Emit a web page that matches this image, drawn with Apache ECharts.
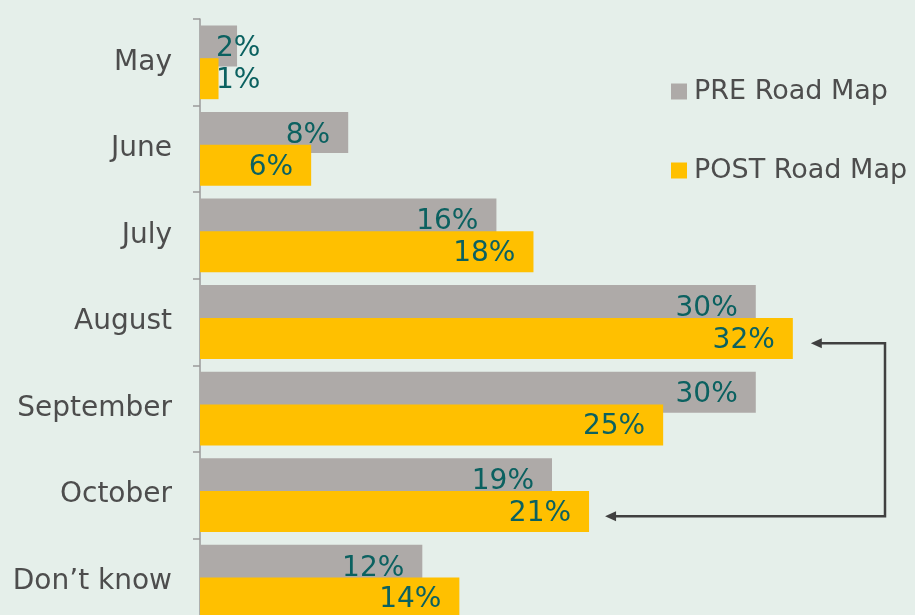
<!DOCTYPE html>
<html>
<head>
<meta charset="utf-8">
<script src="https://cdn.jsdelivr.net/npm/echarts@6/dist/echarts.min.js"></script>
<style>
  html, body { margin: 0; padding: 0; background: #E5EFEA; }
  #chart { width: 915px; height: 615px; }
</style>
</head>
<body>
<div id="chart"></div>
<script>
var months = ['May', 'June', 'July', 'August', 'September', 'October', 'Don\u2019t know'];
var preRoadMap = [2, 8, 16, 30, 30, 19, 12];
var postRoadMap = [1, 6, 18, 32, 25, 21, 14];
var seriesNames = ['PRE Road Map', 'POST Road Map'];

var font = 'DejaVu Sans, Verdana, sans-serif';
var valueColor = '#0B6160';

// short bars get their label pushed out from the axis instead of the bar end
function labelled(values) {
  return values.map(function (v) {
    if (v < 4) {
      return { value: v, label: { position: 'insideLeft', distance: 16 } };
    }
    return v;
  });
}

var chart = echarts.init(document.getElementById('chart'));
chart.setOption({
  backgroundColor: '#E5EFEA',
  animation: false,
  grid: { left: 200, top: 19, width: 704, height: 606, outerBoundsMode: 'none', containLabel: false },
  legend: {
    orient: 'vertical',
    left: 666,
    top: 73,
    itemWidth: 16,
    itemHeight: 16,
    itemGap: 52,
    icon: 'rect',
    textStyle: { fontFamily: font, fontSize: 27, color: '#4D4D4D', padding: [0, 0, 0, 2] },
    data: seriesNames
  },
  xAxis: { type: 'value', min: 0, max: 38, show: false },
  yAxis: {
    type: 'category',
    inverse: true,
    data: months,
    axisLine: { lineStyle: { color: '#9A9A9A', width: 1.5 } },
    axisTick: { show: true, length: 7, lineStyle: { color: '#9A9A9A', width: 1.5 } },
    axisLabel: { margin: 28, fontFamily: font, fontSize: 28, color: '#4D4D4D' }
  },
  series: [
    {
      name: seriesNames[0],
      type: 'bar',
      z: 1,
      barWidth: 41,
      barGap: '-20%',
      itemStyle: { color: '#AEAAA8' },
      label: {
        show: true, position: 'insideRight', distance: 18, offset: [0, 3],
        formatter: '{c}%', fontFamily: font, fontSize: 28, color: valueColor
      },
      data: labelled(preRoadMap)
    },
    {
      name: seriesNames[1],
      type: 'bar',
      z: 2,
      barWidth: 41,
      barGap: '-20%',
      itemStyle: { color: '#FFC000' },
      label: {
        show: true, position: 'insideRight', distance: 18, offset: [0, 2],
        formatter: '{c}%', fontFamily: font, fontSize: 28, color: valueColor
      },
      data: labelled(postRoadMap)
    }
  ]
});

// elbow arrow linking the August and October POST bars
function drawArrow() {
  var aug = 3, oct = 5;
  var band = 606 / months.length;
  var off = band * 0.245;
  var pa = chart.convertToPixel({ gridIndex: 0 }, [postRoadMap[aug], aug]);
  var po = chart.convertToPixel({ gridIndex: 0 }, [postRoadMap[oct], oct]);
  var ya = pa[1] + off, yo = po[1] + off;
  var xa = pa[0] + 18, xo = po[0] + 16;
  var xr = 885;
  var col = '#404040';
  function head(x, y) {
    return {
      type: 'polygon',
      shape: { points: [[x, y], [x + 11, y - 5], [x + 11, y + 5]] },
      style: { fill: col },
      z: 10
    };
  }
  chart.setOption({
    graphic: [
      {
        type: 'polyline',
        shape: { points: [[xa + 10, ya], [xr, ya], [xr, yo], [xo + 10, yo]] },
        style: { stroke: col, lineWidth: 2.5, fill: null },
        z: 10
      },
      head(xa, ya),
      head(xo, yo)
    ]
  });
}
drawArrow();
</script>
</body>
</html>
